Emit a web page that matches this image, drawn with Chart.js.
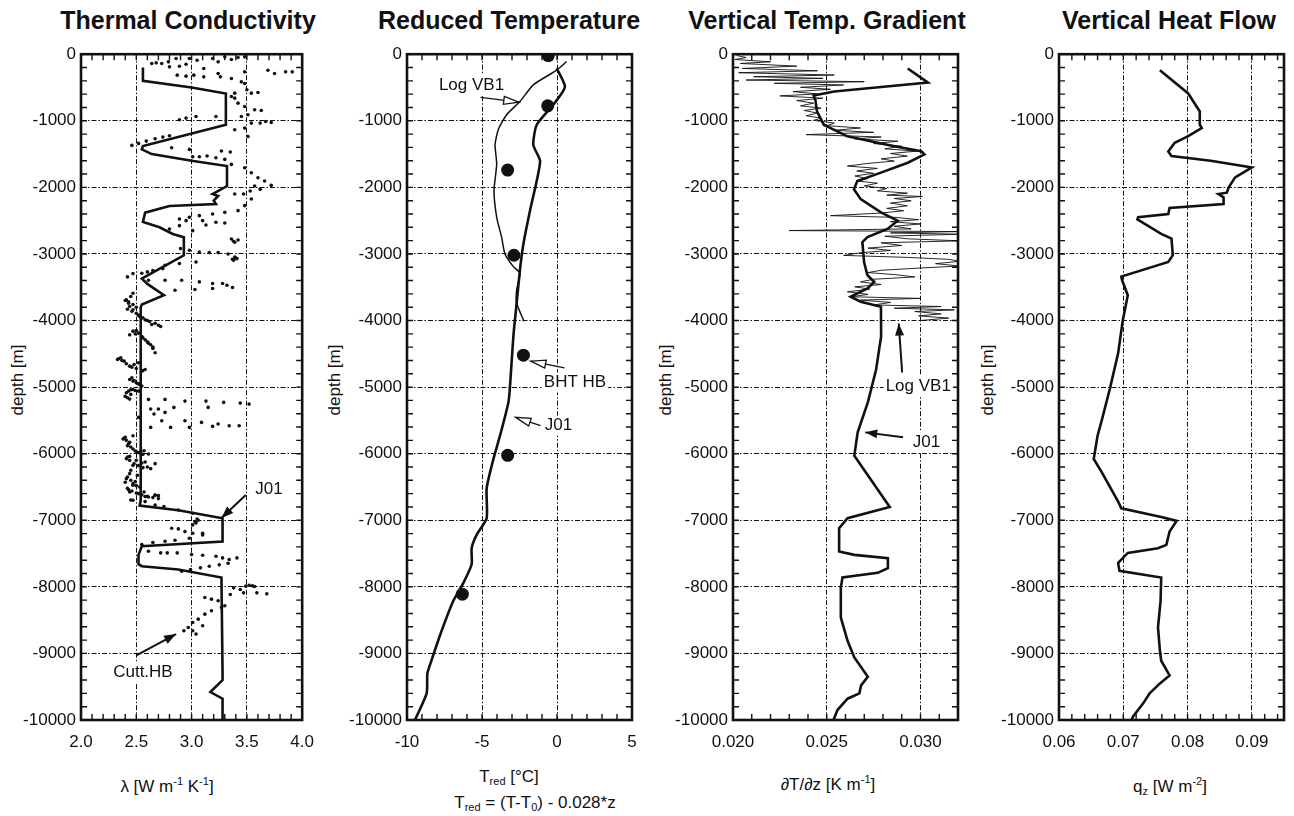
<!DOCTYPE html>
<html>
<head>
<meta charset="utf-8">
<script src="https://cdn.jsdelivr.net/npm/chart.js@4.4.1/dist/chart.umd.min.js"></script>
<style>
  body { margin: 0; background: #fff; width: 1294px; height: 816px; overflow: hidden; position: relative;
         font-family: "Liberation Sans", Arial, Helvetica, sans-serif; color: #111; }
  .panel { position: absolute; top: 39px; width: 315px; height: 721px; }
  .title { position: absolute; top: 5px; font-weight: bold; font-size: 25px; line-height: 30px;
           transform: translateX(-50%); white-space: nowrap; }
  .xlab { position: absolute; font-size: 17px; line-height: 20px; transform: translate(-50%, -50%); white-space: nowrap; }
  .ylab { position: absolute; font-size: 17px; line-height: 20px; transform: translate(-50%, -50%) rotate(-90deg); white-space: nowrap; }
  sup { font-size: 11px; vertical-align: 7px; line-height: 0; }
  sub { font-size: 11px; vertical-align: -3px; line-height: 0; }
</style>
</head>
<body>
<div class="title" style="left:188px">Thermal Conductivity</div>
<div class="title" style="left:509px">Reduced Temperature</div>
<div class="title" style="left:827px">Vertical Temp. Gradient</div>
<div class="title" style="left:1169px">Vertical Heat Flow</div>

<div class="ylab" style="left:18px;top:380px">depth [m]</div>
<div class="ylab" style="left:335px;top:380px">depth [m]</div>
<div class="ylab" style="left:666px;top:380px">depth [m]</div>
<div class="ylab" style="left:988px;top:380px">depth [m]</div>

<div class="xlab" style="left:167px;top:787px">λ [W m<sup>-1</sup> K<sup>-1</sup>]</div>
<div class="xlab" style="left:509px;top:777px">T<sub>red</sub> [°C]</div>
<div class="xlab" style="left:535px;top:803px">T<sub>red</sub> = (T-T<sub>0</sub>) - 0.028*z</div>
<div class="xlab" style="left:828px;top:785px">∂T/∂z [K m<sup>-1</sup>]</div>
<div class="xlab" style="left:1170px;top:787px">q<sub>z</sub> [W m<sup>-2</sup>]</div>

<div class="panel" style="left:11px"><canvas id="c1" width="315" height="721"></canvas></div>
<div class="panel" style="left:337px"><canvas id="c2" width="315" height="721"></canvas></div>
<div class="panel" style="left:663px"><canvas id="c3" width="315" height="721"></canvas></div>
<div class="panel" style="left:989px"><canvas id="c4" width="315" height="721"></canvas></div>

<script>
// ===== DATA =====
// Thermal conductivity, model J01
const j01LamDepth = [-200,-400,-500,-590,-1060,-1380,-1430,-1500,-1600,-1680,
  -1980,-2100,-2130,-2200,-2250,-2280,-2380,-2520,-2600,-2700,
  -2750,-3020,-3370,-3450,-3620,-3760,-3800,-6700,-6780,-6850,
  -6970,-7320,-7390,-7520,-7660,-7690,-7740,-7860,-9280,-9400,
  -9580,-9680,-10000];
const j01Lam = [2.56,2.56,3.0,3.31,3.31,2.56,2.55,2.64,3.0,3.32,
  3.32,3.19,3.24,3.2,3.22,2.8,2.58,2.56,2.71,2.83,
  2.93,2.93,2.55,2.6,2.75,2.55,2.54,2.54,2.53,2.88,
  3.28,3.28,2.55,2.52,2.52,2.55,2.88,3.27,3.28,3.28,
  3.17,3.28,3.28];

// Cuttings HB measurements [lambda, depth]
const cuttingsHB = [
  [2.64,-140],[2.68,-130],[2.73,-140],[2.79,-115],[2.80,-190],[2.86,-65],[2.89,-180],[2.95,-150],[2.98,-65],[3.05,-90],
  [3.11,-215],[3.19,-65],[3.24,-115],[3.30,-40],[3.36,-80],[3.42,-50],[3.48,-40],
  [2.87,-315],[2.95,-330],[3.02,-315],[3.11,-340],[3.24,-290],[3.26,-340],[3.36,-365],[3.48,-265],[3.45,-415],[3.48,-440],
  [3.50,-535],[3.39,-585],[3.54,-585],[3.60,-575],[3.69,-240],[3.75,-290],[3.85,-265],[3.91,-265],
  [3.36,-635],[3.39,-660],[3.42,-735],[3.48,-785],[3.57,-835],[3.63,-845],[3.51,-910],[3.45,-935],
  [2.89,-985],[2.95,-960],[3.04,-935],[3.22,-935],[3.39,-1135],[3.48,-1110],[3.54,-1035],[3.62,-1035],[3.67,-1010],[3.72,-1025],[3.51,-1235],
  [2.46,-1370],[2.52,-1340],[2.59,-1305],[2.67,-1270],[2.74,-1245],[2.80,-1225],
  [2.82,-1405],[2.98,-1430],[3.01,-1540],[3.07,-1540],[3.14,-1530],[3.22,-1555],[3.27,-1455],[3.35,-1470],[3.30,-1580],
  [3.36,-1655],[3.48,-1705],[3.54,-1780],[3.60,-1855],[3.66,-1905],[3.72,-1970],
  [3.39,-2100],[3.47,-2100],[3.53,-2055],[3.57,-1980],[3.62,-2030],
  [3.54,-2175],[3.48,-2275],[3.42,-2350],[3.30,-2375],[3.19,-2400],[3.07,-2425],[2.98,-2450],[2.89,-2475],
  [2.95,-2500],[3.10,-2500],[3.22,-2525],[3.30,-2535],[2.89,-2575],[2.80,-2625],[3.01,-2650],[3.13,-2565],
  [3.36,-2775],[3.39,-2825],[3.42,-2790],[3.38,-2810],
  [2.90,-2920],[2.98,-2945],[3.07,-2970],[3.16,-2980],[3.24,-2980],[3.33,-3000],[3.39,-3045],[3.38,-3095],
  [3.40,-3060],[3.41,-3070],[3.37,-3080],
  [3.04,-3120],[2.89,-3145],[2.76,-3170],[2.47,-3295],[2.74,-3220],[2.42,-3345],[2.55,-3290],[2.60,-3270],[2.65,-3250],
  [2.61,-3395],[2.76,-3395],[2.91,-3395],[2.85,-3545],[3.03,-3535],[3.07,-3420],[3.19,-3445],[3.19,-3520],[3.28,-3445],[3.32,-3470],[3.37,-3505],
  [2.41,-3690],[2.47,-3590],[2.44,-3790],[2.50,-3890],[2.58,-3990],[2.67,-4040],[2.72,-4090],[2.44,-4215],[2.52,-4190],[2.58,-4290],
  [2.63,-4365],[2.67,-4485],[2.33,-4585],[2.39,-4610],[2.44,-4685],[2.52,-4635],[2.58,-4735],[2.44,-4885],[2.50,-4935],[2.55,-4985],
  [2.41,-5085],[2.47,-5035],[2.52,-5060],[2.42,-5160],
  [2.45,-3640],[2.43,-3740],[2.47,-3840],[2.53,-3940],[2.62,-4015],[2.50,-4150],[2.55,-4240],[2.60,-4320],[2.65,-4420],[2.36,-4560],
  [2.48,-4660],[2.55,-4760],[2.47,-4910],[2.53,-4960],[2.45,-5110],
  [2.40,-3700],[2.43,-3720],[2.47,-3760],[2.50,-3800],[2.42,-3830],[2.46,-3860],[2.52,-3920],[2.56,-3960],
  [2.60,-4000],[2.64,-4060],[2.70,-4070],[2.47,-4160],[2.49,-4200],[2.56,-4260],[2.61,-4340],[2.65,-4400],
  [2.34,-4575],[2.37,-4600],[2.41,-4650],[2.46,-4700],[2.50,-4720],[2.56,-4750],[2.46,-4860],[2.48,-4900],[2.52,-4950],
  [2.43,-5060],[2.45,-5040],[2.49,-5050],[2.40,-5140],[2.44,-5180],
  [2.61,-5185],[2.76,-5185],[2.94,-5210],[3.13,-5210],[3.29,-5230],[3.44,-5240],[3.52,-5255],[3.15,-5305],[2.63,-5330],[2.70,-5330],
  [2.76,-5380],[2.84,-5305],[2.66,-5405],[2.73,-5505],[2.81,-5605],[2.63,-5605],[2.52,-5455],[2.94,-5505],[2.98,-5605],[3.09,-5530],
  [3.19,-5590],[3.24,-5555],[3.34,-5580],[3.43,-5580],
  [2.38,-5780],[2.42,-5880],[2.47,-5730],[2.51,-5980],[2.57,-5955],[2.61,-6005],[2.41,-6075],[2.47,-6175],[2.58,-6125],[2.67,-6150],
  [2.63,-6225],[2.41,-6375],[2.47,-6475],[2.51,-6325],[2.44,-6575],[2.57,-6575],[2.67,-6625],[2.70,-6675],
  [2.40,-5755],[2.44,-5830],[2.47,-5930],[2.54,-5960],[2.44,-6040],[2.50,-6100],[2.55,-6140],[2.44,-6300],[2.49,-6420],[2.42,-6520],
  [2.52,-6600],[2.61,-6650],[2.47,-6700],[2.40,-6430],[2.45,-6250],
  [2.39,-5770],[2.41,-5800],[2.43,-5850],[2.45,-5900],[2.49,-5960],[2.53,-5990],[2.56,-6010],
  [2.42,-6050],[2.44,-6100],[2.48,-6150],[2.52,-6180],[2.56,-6210],[2.60,-6200],
  [2.42,-6350],[2.45,-6400],[2.47,-6450],[2.50,-6480],[2.53,-6500],[2.43,-6540],[2.46,-6560],[2.50,-6590],[2.55,-6620],[2.60,-6640],[2.65,-6660],
  [2.45,-6695],[2.58,-6645],[2.67,-6620],[2.70,-6630],[2.58,-6720],[2.67,-6770],[2.75,-6795],[2.88,-6845],[3.01,-6895],[3.03,-7020],
  [3.01,-7070],[2.82,-7120],[2.88,-7130],[2.94,-7170],[3.01,-7195],[3.10,-7195],[3.05,-6980],[3.06,-7000],[3.04,-7040],
  [2.55,-7365],[2.65,-7335],[2.76,-7315],[2.85,-7300],[2.98,-7270],[3.10,-7220],
  [2.61,-7465],[2.72,-7490],[2.78,-7490],[2.87,-7490],[3.00,-7515],[3.10,-7525],[3.22,-7540],[3.28,-7565],[3.34,-7590],[3.41,-7565],
  [2.91,-7765],[2.99,-7740],[3.08,-7715],[3.16,-7690],[3.25,-7670],[3.33,-7645],
  [3.38,-8015],[3.44,-8040],[3.49,-7990],[3.52,-7975],[3.55,-7985],[3.57,-7995],[3.35,-8115],[3.47,-8090],[3.59,-8090],[3.68,-8105],
  [3.12,-8160],[3.18,-8185],[3.24,-8210],[3.27,-8310],[3.30,-8285],[3.18,-8360],[3.12,-8410],[3.06,-8485],[3.01,-8535],[2.97,-8610],
  [2.93,-8660],[3.01,-8660],[3.04,-8710],[3.10,-8585]
];

// Reduced temperature
const j01TredDepth = [-210,-490,-760,-1060,-1360,-1600,-1900,-2350,-2850,-3240,
  -3740,-4240,-4980,-5230,-5730,-6080,-6520,-6970,-7220,-7420,
  -7660,-7940,-8210,-8660,-9100,-9300,-9600,-10000];
const j01Tred = [-0.02,0.53,-0.25,-1.35,-1.58,-1.13,-1.35,-1.8,-2.24,-2.47,
  -2.69,-2.91,-3.13,-3.24,-3.8,-4.24,-4.69,-4.69,-5.36,-5.69,
  -5.69,-6.24,-6.91,-7.69,-8.36,-8.64,-8.69,-9.47];
const logTredDepth = [-110,-240,-460,-710,-910,-1130,-1360,-1650,-2050,-2450,
  -2750,-3000,-3190,-3290,-3540,-3740,-4010];
const logTred = [0.64,-0.02,-1.58,-2.47,-3.36,-3.91,-4.13,-4.02,-4.2,-4.02,
  -3.69,-3.47,-2.91,-2.47,-2.69,-2.69,-2.2];
const bhtDepth = [-20,-775,-1740,-3020,-4520,-6025,-8110];
const bhtTred = [-0.58,-0.62,-3.29,-2.87,-2.24,-3.29,-6.31];

// Vertical temperature gradient
const j01GradDepth = [-214,-427,-512,-560,-620,-700,-860,-1059,-1233,-1382,
  -1456,-1506,-1630,-1779,-1904,-2028,-2177,-2376,-2500,-2624,
  -2748,-2823,-3121,-3320,-3419,-3519,-3643,-3718,-3792,-4240,
  -4740,-5230,-5680,-6030,-6470,-6800,-6970,-7120,-7470,-7520,
  -7570,-7720,-7790,-7860,-8010,-8460,-8810,-9060,-9350,-9480,
  -9600,-9680,-9850,-10000];
const j01Grad = [0.02932,0.0304,0.0272,0.0254,0.0243,0.0244,0.02448,0.02484,0.0261,0.0286,
  0.03004,0.03021,0.02932,0.02789,0.02663,0.02645,0.02681,0.02789,0.02878,0.02824,
  0.02717,0.0269,0.02699,0.02717,0.02753,0.02717,0.02627,0.02681,0.02789,0.0279,
  0.02763,0.02719,0.02665,0.02647,0.02755,0.02836,0.02611,0.02566,0.02566,0.02647,
  0.02826,0.02826,0.02772,0.02584,0.02575,0.02575,0.02611,0.02647,0.02719,0.02683,
  0.02674,0.02611,0.02557,0.02536];
const logGradDepth = [-20,-50,-80,-114,-139,-179,-214,-249,-278,-313,
  -338,-363,-388,-413,-437,-462,-497,-527,-562,-596,
  -626,-661,-696,-736,-775,-810,-845,-885,-924,-959,
  -994,-1034,-1073,-1108,-1143,-1173,-1208,-1243,-1272,-1307,
  -1342,-1382,-1421,-1456,-1491,-1531,-1571,-1605,-1640,-1680,
  -1715,-1754,-1789,-1829,-1869,-1904,-1938,-1978,-2018,-2053,
  -2087,-2117,-2137,-2167,-2202,-2236,-2276,-2316,-2351,-2386,
  -2425,-2450,-2485,-2515,-2550,-2584,-2624,-2649,-2664,-2684,
  -2704,-2734,-2773,-2803,-2833,-2873,-2912,-2947,-2982,-3022,
  -3052,-3081,-3111,-3146,-3181,-3211,-3245,-3280,-3310,-3345,
  -3380,-3419,-3459,-3494,-3529,-3568,-3608,-3643,-3668,-3693,
  -3728,-3766,-3790,-3815,-3840,-3865,-3900,-3930,-3964,-4000];
const logGrad = [0.0202,0.0207,0.0201,0.0220,0.0204,0.0234,0.0205,0.0245,0.0203,0.0254,
  0.0211,0.0248,0.0207,0.0270,0.0222,0.0259,0.0236,0.0252,0.0232,0.0245,
  0.0225,0.0248,0.0234,0.0243,0.0236,0.0247,0.0238,0.0245,0.0239,0.0247,
  0.0243,0.0254,0.0250,0.0268,0.0254,0.0275,0.0239,0.0279,0.0265,0.0288,
  0.0275,0.0290,0.0281,0.0298,0.0284,0.0293,0.0279,0.0286,0.0272,0.0261,
  0.0277,0.0266,0.0275,0.0265,0.0272,0.0266,0.0277,0.0270,0.0282,0.0277,
  0.0293,0.0282,0.0301,0.0286,0.0295,0.0284,0.0293,0.0282,0.0291,0.0279,
  0.0252,0.0286,0.0299,0.0284,0.0300,0.0286,0.0295,0.0230,0.0321,0.0284,
  0.0321,0.0281,0.0293,0.0321,0.0279,0.0290,0.0272,0.0284,0.0268,0.0259,
  0.0293,0.0315,0.0321,0.0308,0.0321,0.0300,0.0279,0.0272,0.0286,0.0297,
  0.0275,0.0268,0.0279,0.0265,0.0273,0.0261,0.0272,0.0263,0.0300,0.0268,
  0.0284,0.0275,0.0311,0.0286,0.0318,0.0297,0.0311,0.0299,0.0315,0.0300];

// Vertical heat flow
const j01QDepth = [-240,-590,-860,-1060,-1110,-1230,-1330,-1460,-1530,-1600,
  -1700,-1850,-2000,-2080,-2100,-2150,-2250,-2310,-2400,-2450,
  -2480,-2700,-2770,-3020,-3120,-3340,-3390,-3620,-4010,-4490,
  -5030,-5480,-5730,-6080,-6270,-6720,-6820,-6950,-7010,-7170,
  -7370,-7420,-7490,-7640,-7760,-7860,-8210,-8610,-8960,-9110,
  -9330,-9450,-9600,-9750,-9950,-10000];
const j01Q = [0.0757,0.0801,0.0819,0.0819,0.0822,0.0801,0.078,0.077,0.0775,0.0836,
  0.09,0.0874,0.0864,0.0861,0.0848,0.0856,0.0856,0.0772,0.077,0.0723,
  0.0722,0.0759,0.0775,0.0777,0.077,0.0697,0.0698,0.0707,0.0699,0.0692,
  0.0679,0.0667,0.066,0.0654,0.0666,0.0692,0.0697,0.0759,0.0783,0.0772,
  0.0767,0.0754,0.0707,0.0692,0.0694,0.0759,0.0758,0.0754,0.0757,0.0759,
  0.0772,0.0757,0.0741,0.0731,0.0715,0.0713];

const depthTicks = { min: -10000, max: 0, step: 1000, minor: 200 };

// ===== DRAWING =====
const INK = '#111';
Chart.defaults.font.family = '"Liberation Sans", Arial, Helvetica, sans-serif';
Chart.defaults.font.size = 17;
Chart.defaults.color = INK;

const pts = (xs, ys) => xs.map((v, i) => ({ x: v, y: ys[i] }));
const lineSet = (data, w, t) => ({ data, showLine: true, pointRadius: 0, borderColor: INK, borderWidth: w, fill: false, tension: t || 0 });

function arrowHead(ctx, x1, y1, x2, y2, open) {
    const a = Math.atan2(y2 - y1, x2 - x1);
    const len = open ? 15 : 12, hw = open ? 4 : 4.5;
    ctx.beginPath();
    ctx.moveTo(x2, y2);
    ctx.lineTo(x2 - len * Math.cos(a) + hw * Math.sin(a), y2 - len * Math.sin(a) - hw * Math.cos(a));
    ctx.lineTo(x2 - len * Math.cos(a) - hw * Math.sin(a), y2 - len * Math.sin(a) + hw * Math.cos(a));
    ctx.closePath();
    if (open) { ctx.fillStyle = '#fff'; ctx.fill(); ctx.stroke(); }
    else { ctx.fillStyle = INK; ctx.fill(); }
}

// frame, inward minor ticks and annotations
const frameTicks = {
    id: 'frameTicks',
    afterDraw(chart, args, o) {
        const { ctx, chartArea: a, scales: { x, y } } = chart;
        ctx.save();
        ctx.strokeStyle = INK;
        ctx.lineWidth = 1.4;
        ctx.beginPath();
        const nx = Math.round((o.xMax - o.xMin) / o.xMinor);
        for (let i = 1; i < nx; i++) {
            const px = x.getPixelForValue(o.xMin + i * o.xMinor);
            ctx.moveTo(px, a.top); ctx.lineTo(px, a.top + 6);
            ctx.moveTo(px, a.bottom); ctx.lineTo(px, a.bottom - 6);
        }
        const ny = Math.round((depthTicks.max - depthTicks.min) / depthTicks.minor);
        for (let i = 1; i < ny; i++) {
            const py = y.getPixelForValue(depthTicks.min + i * depthTicks.minor);
            ctx.moveTo(a.left, py); ctx.lineTo(a.left + 6, py);
            ctx.moveTo(a.right, py); ctx.lineTo(a.right - 6, py);
        }
        ctx.stroke();
        ctx.lineWidth = 2.6;
        ctx.strokeRect(a.left, a.top, a.right - a.left, a.bottom - a.top);

        ctx.font = '17px "Liberation Sans", Arial, sans-serif';
        ctx.textAlign = 'center';
        ctx.textBaseline = 'middle';
        (o.labels || []).forEach(l => {
            ctx.fillStyle = '#fff';
            const w = ctx.measureText(l.text).width;
            const lx = x.getPixelForValue(l.x), ly = y.getPixelForValue(l.y);
            ctx.fillRect(lx - w / 2 - 2, ly - 10, w + 4, 20);
            ctx.fillStyle = INK;
            ctx.fillText(l.text, lx, ly);
        });
        (o.arrows || []).forEach(r => {
            const x1 = x.getPixelForValue(r.x1), y1 = y.getPixelForValue(r.y1);
            const x2 = x.getPixelForValue(r.x2), y2 = y.getPixelForValue(r.y2);
            ctx.lineWidth = r.open ? 1.3 : 2;
            ctx.beginPath(); ctx.moveTo(x1, y1); ctx.lineTo(x2, y2); ctx.stroke();
            ctx.lineWidth = 1.3;
            arrowHead(ctx, x1, y1, x2, y2, r.open);
        });
        ctx.restore();
    }
};

function makePanel(id, p) {
    return new Chart(document.getElementById(id), {
        type: 'scatter',
        data: { datasets: p.datasets },
        options: {
            animation: false, responsive: false, maintainAspectRatio: false,
            layout: { padding: { top: 10, right: 20, left: 0, bottom: 0 } },
            plugins: {
                legend: { display: false }, tooltip: { enabled: false },
                frameTicks: { xMin: p.xMin, xMax: p.xMax, xMinor: p.xMinor, labels: p.labels, arrows: p.arrows }
            },
            scales: {
                x: {
                    type: 'linear', min: p.xMin, max: p.xMax,
                    afterFit: s => { s.height = 40; },
                    ticks: { stepSize: p.xStep, includeBounds: false, maxRotation: 0, autoSkip: false, padding: 12,
                             callback: v => v.toFixed(p.xDec) },
                    grid: { color: INK, lineWidth: 1, drawTicks: false },
                    border: { display: false, dash: [5, 2, 1.5, 2] }
                },
                y: {
                    type: 'linear', min: depthTicks.min, max: depthTicks.max,
                    afterFit: s => { s.width = 70; },
                    ticks: { stepSize: depthTicks.step, padding: 5, callback: v => String(v) },
                    grid: { color: INK, lineWidth: 1, drawTicks: false },
                    border: { display: false, dash: [5, 2, 1.5, 2] }
                }
            }
        },
        plugins: [frameTicks]
    });
}

makePanel('c1', {
    xMin: 2, xMax: 4, xStep: 0.5, xMinor: 0.1, xDec: 1,
    datasets: [
        { data: cuttingsHB.map(c => ({ x: c[0], y: c[1] })), pointRadius: 1.8, backgroundColor: INK, borderWidth: 0 },
        lineSet(pts(j01Lam, j01LamDepth), 2.6)
    ],
    labels: [{ x: 3.70, y: -6540, text: 'J01' }, { x: 2.56, y: -9285, text: 'Cutt.HB' }],
    arrows: [{ x1: 3.49, y1: -6620, x2: 3.27, y2: -6965 }, { x1: 2.50, y1: -9030, x2: 2.86, y2: -8710 }]
});

makePanel('c2', {
    xMin: -10, xMax: 5, xStep: 5, xMinor: 1, xDec: 0,
    datasets: [
        lineSet(pts(logTred, logTredDepth), 1.5, 0.2),
        lineSet(pts(j01Tred, j01TredDepth), 2.6, 0.2),
        { data: pts(bhtTred, bhtDepth), pointRadius: 6.5, backgroundColor: INK, borderWidth: 0 }
    ],
    labels: [{ x: -5.7, y: -460, text: 'Log VB1' }, { x: 1.2, y: -4930, text: 'BHT HB' }, { x: 0.1, y: -5580, text: 'J01' }],
    arrows: [
        { x1: -5.1, y1: -650, x2: -2.55, y2: -720, open: true },
        { x1: 0.5, y1: -4710, x2: -1.75, y2: -4610, open: true },
        { x1: -1.1, y1: -5580, x2: -2.75, y2: -5455, open: true }
    ]
});

makePanel('c3', {
    xMin: 0.020, xMax: 0.032, xStep: 0.005, xMinor: 0.001, xDec: 3,
    datasets: [
        lineSet(pts(logGrad, logGradDepth), 0.9),
        lineSet(pts(j01Grad, j01GradDepth), 2.6)
    ],
    labels: [{ x: 0.02988, y: -4982, text: 'Log VB1' }, { x: 0.03032, y: -5827, text: 'J01' }],
    arrows: [
        { x1: 0.02902, y1: -4780, x2: 0.02884, y2: -4045 },
        { x1: 0.02907, y1: -5753, x2: 0.02705, y2: -5680 }
    ]
});

makePanel('c4', {
    xMin: 0.06, xMax: 0.095, xStep: 0.01, xMinor: 0.002, xDec: 2,
    datasets: [lineSet(pts(j01Q, j01QDepth), 2.6)]
});
</script>
</body>
</html>
